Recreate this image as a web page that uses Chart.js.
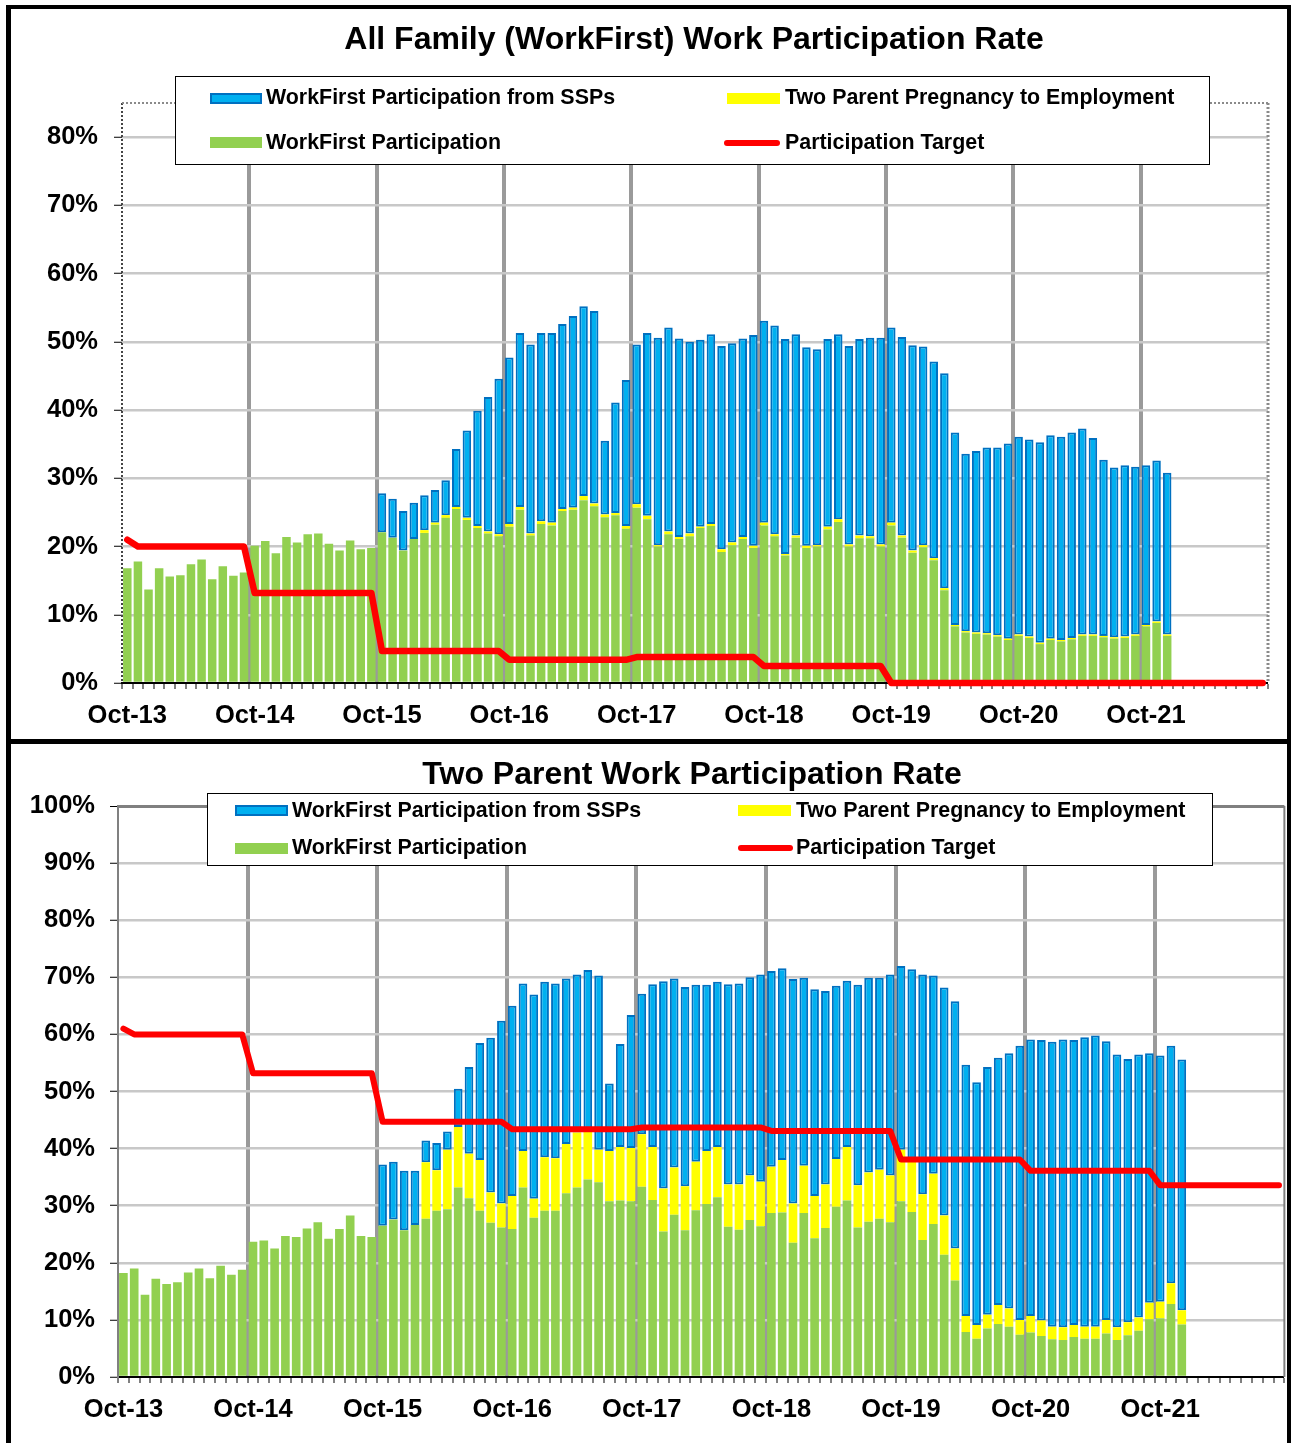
<!DOCTYPE html>
<html><head><meta charset="utf-8">
<script src="https://cdn.jsdelivr.net/npm/chart.js@4.4.1/dist/chart.umd.min.js"></script>
<style>
html,body{margin:0;padding:0;background:#fff;}
body{width:1291px;height:1443px;position:relative;overflow:hidden;font-family:'Liberation Sans',Arial,sans-serif;}
canvas{position:absolute;left:0;}
#c1{top:0;} #c2{top:742px;}
.box{position:absolute;box-sizing:border-box;border:0 solid #000;}
.title{position:absolute;font-weight:bold;font-size:32px;line-height:32px;white-space:nowrap;transform:translateX(-50%);color:#000;}
.legend{position:absolute;background:#fff;border:1px solid #000;box-sizing:border-box;}
.lt{position:absolute;font-weight:bold;font-size:21.4px;line-height:21px;white-space:nowrap;color:#000;}
.sw{position:absolute;box-sizing:border-box;}
.blue{background:#00B0F0;border:2px solid #0070C0;}
.yel{background:#FFFF00;}
.grn{background:#92D050;}
.red{background:#FF0000;border-radius:3px;}
</style></head><body>
<canvas id="c1" width="1291" height="740"></canvas>
<canvas id="c2" width="1291" height="701"></canvas>

<div class="box" style="left:6px;top:5px;width:1285px;height:739px;border-left-width:5px;border-top-width:4px;border-right-width:4px;border-bottom-width:5px;"></div>
<div class="box" style="left:6px;top:744px;width:1285px;height:720px;border-left-width:5px;border-right-width:4px;"></div>

<div class="title" style="left:694px;top:22px;">All Family (WorkFirst) Work Participation Rate</div>
<div class="title" style="left:692px;top:757px;">Two Parent Work Participation Rate</div>

<div class="legend" style="left:175px;top:76px;width:1035px;height:89px;"></div>
<div class="sw blue" style="left:210px;top:93px;width:52px;height:11px;"></div>
<div class="lt" style="left:266px;top:87px;">WorkFirst Participation from SSPs</div>
<div class="sw yel" style="left:727px;top:93px;width:53px;height:11px;"></div>
<div class="lt" style="left:785px;top:87px;">Two Parent Pregnancy to Employment</div>
<div class="sw grn" style="left:210px;top:137px;width:52px;height:11px;"></div>
<div class="lt" style="left:266px;top:132px;">WorkFirst Participation</div>
<div class="sw red" style="left:724px;top:140px;width:56px;height:6px;"></div>
<div class="lt" style="left:785px;top:132px;">Participation Target</div>

<div class="legend" style="left:207px;top:793px;width:1006px;height:73px;"></div>
<div class="sw blue" style="left:235px;top:805px;width:53px;height:11px;"></div>
<div class="lt" style="left:292px;top:800px;">WorkFirst Participation from SSPs</div>
<div class="sw yel" style="left:738px;top:805px;width:53px;height:11px;"></div>
<div class="lt" style="left:796px;top:800px;">Two Parent Pregnancy to Employment</div>
<div class="sw grn" style="left:235px;top:843px;width:53px;height:11px;"></div>
<div class="lt" style="left:292px;top:837px;">WorkFirst Participation</div>
<div class="sw red" style="left:738px;top:845px;width:55px;height:6px;"></div>
<div class="lt" style="left:796px;top:837px;">Participation Target</div>

<script>
const categories = [
 'Oct-13','Nov-13','Dec-13','Jan-14','Feb-14','Mar-14','Apr-14','May-14','Jun-14','Jul-14','Aug-14','Sep-14',
 'Oct-14','Nov-14','Dec-14','Jan-15','Feb-15','Mar-15','Apr-15','May-15','Jun-15','Jul-15','Aug-15','Sep-15',
 'Oct-15','Nov-15','Dec-15','Jan-16','Feb-16','Mar-16','Apr-16','May-16','Jun-16','Jul-16','Aug-16','Sep-16',
 'Oct-16','Nov-16','Dec-16','Jan-17','Feb-17','Mar-17','Apr-17','May-17','Jun-17','Jul-17','Aug-17','Sep-17',
 'Oct-17','Nov-17','Dec-17','Jan-18','Feb-18','Mar-18','Apr-18','May-18','Jun-18','Jul-18','Aug-18','Sep-18',
 'Oct-18','Nov-18','Dec-18','Jan-19','Feb-19','Mar-19','Apr-19','May-19','Jun-19','Jul-19','Aug-19','Sep-19',
 'Oct-19','Nov-19','Dec-19','Jan-20','Feb-20','Mar-20','Apr-20','May-20','Jun-20','Jul-20','Aug-20','Sep-20',
 'Oct-20','Nov-20','Dec-20','Jan-21','Feb-21','Mar-21','Apr-21','May-21','Jun-21','Jul-21','Aug-21','Sep-21',
 'Oct-21','Nov-21','Dec-21','Jan-22','Feb-22','Mar-22','Apr-22','May-22','Jun-22','Jul-22','Aug-22','Sep-22'
];
const tickLabels = ['Oct-13','Oct-14','Oct-15','Oct-16','Oct-17','Oct-18','Oct-19','Oct-20','Oct-21'];
const allYTickMax = 80;   // highest labelled tick on the All Family chart
const twoYTickMax = 100;  // highest labelled tick on the Two Parent chart

// All Family chart (percent)
const allWorkFirst = [
 16.8,17.8,13.7,16.8,15.6,15.8,17.4,18.1,15.2,17.1,15.7,16.2,
 20.1,20.8,19.0,21.4,20.6,21.8,21.9,20.4,19.4,20.9,19.6,19.8,
 22.1,21.3,19.4,21.1,22.0,23.2,24.2,25.5,23.9,22.7,21.9,21.5,
 22.9,25.4,21.6,23.3,23.1,25.2,25.4,26.8,25.9,24.3,24.6,22.6,
 25.7,24.0,20.0,21.8,21.1,21.5,22.7,23.0,19.2,20.2,21.1,19.8,
 23.1,21.5,18.7,21.3,19.8,20.0,22.5,23.6,20.0,21.2,21.2,20.0,
 23.1,21.3,19.1,19.9,18.0,13.6,8.3,7.4,7.2,7.1,6.8,6.3,
 6.9,6.6,5.7,6.3,6.1,6.4,6.9,6.9,6.7,6.5,6.6,6.9,
 8.3,8.8,6.9
];
const allPregnancy = [
 null,null,null,null,null,null,null,null,null,null,null,null,
 null,null,null,null,null,null,null,null,null,null,null,null,
 null,null,null,null,0.4,0.3,0.4,0.3,0.3,0.3,0.3,0.3,
 0.4,0.4,0.3,0.4,0.4,0.3,0.3,0.6,0.4,0.4,0.3,0.4,
 0.5,0.5,0.2,0.4,0.3,0.4,0.2,0.3,0.4,0.4,0.3,0.3,
 0.4,0.3,0.2,0.3,0.3,0.2,0.4,0.4,0.3,0.4,0.3,0.3,
 0.4,0.3,0.3,0.3,0.3,0.3,0.2,0.2,0.2,0.2,0.2,0.2,
 0.2,0.2,0.2,0.2,0.2,0.2,0.2,0.2,0.2,0.2,0.2,0.2,
 0.2,0.2,0.2
];
const allSSP = [
 null,null,null,null,null,null,null,null,null,null,null,null,
 null,null,null,null,null,null,null,null,null,null,null,null,
 5.7,5.7,5.8,5.3,5.1,4.8,5.1,8.5,12.8,16.9,19.7,22.8,
 24.4,25.5,27.7,27.6,27.8,27.1,28.1,27.8,28.2,10.8,16.2,21.4,
 23.4,26.8,30.4,29.9,29.1,28.1,27.4,27.8,29.8,29.2,29.1,30.9,
 29.6,30.6,31.5,29.5,29.1,28.7,27.5,27.1,29.1,28.8,29.1,30.3,
 28.6,29.1,30.1,29.1,28.8,31.5,28.2,26.0,26.6,27.2,27.5,28.6,
 29.0,28.9,29.4,29.8,29.8,30.1,30.2,28.8,25.8,24.9,25.1,24.6,
 23.4,23.6,23.7
];
const allTarget = [
 21,20,20,20,20,20,20,20,20,20,20,20,
 13.2,13.2,13.2,13.2,13.2,13.2,13.2,13.2,13.2,13.2,13.2,13.2,
 4.7,4.7,4.7,4.7,4.7,4.7,4.7,4.7,4.7,4.7,4.7,4.7,
 3.4,3.4,3.4,3.4,3.4,3.4,3.4,3.4,3.4,3.4,3.4,3.4,
 3.8,3.8,3.8,3.8,3.8,3.8,3.8,3.8,3.8,3.8,3.8,3.8,
 2.5,2.5,2.5,2.5,2.5,2.5,2.5,2.5,2.5,2.5,2.5,2.5,
 0,0,0,0,0,0,0,0,0,0,0,0,
 0,0,0,0,0,0,0,0,0,0,0,0,
 0,0,0,0,0,0,0,0,0,0,0,0
];

// Two Parent chart (percent)
const twoWorkFirst = [
 18.2,19.0,14.4,17.2,16.3,16.6,18.3,19.0,17.3,19.5,17.9,18.8,
 23.7,23.9,22.5,24.7,24.5,26.0,27.1,24.2,25.9,28.3,24.7,24.5,
 26.5,27.6,25.7,26.6,27.7,29.1,29.4,33.2,31.3,29.1,27.0,26.2,
 25.9,33.2,27.9,29.1,29.1,32.2,33.2,34.6,34.1,30.8,30.9,30.8,
 33.3,31.0,25.5,28.4,25.7,29.2,30.3,31.5,26.3,25.8,27.5,26.4,
 28.7,28.8,23.5,28.7,24.3,26.1,29.8,30.9,26.2,27.2,27.7,27.1,
 30.8,28.9,24.0,26.8,21.4,16.9,7.9,6.7,8.5,9.3,8.8,7.4,
 7.8,7.2,6.6,6.5,7.0,6.7,6.7,7.6,6.5,7.3,8.1,10.1,
 10.3,12.8,9.2
];
const twoPregnancy = [
 null,null,null,null,null,null,null,null,null,null,null,null,
 null,null,null,null,null,null,null,null,null,null,null,null,
 null,null,null,null,9.9,7.1,10.4,10.6,7.8,8.9,5.3,4.2,
 5.8,6.4,3.3,9.4,9.2,8.6,9.6,8.4,5.7,8.8,9.4,9.3,
 9.2,9.3,7.5,8.3,7.7,8.5,9.3,8.8,7.4,7.9,7.8,7.8,
 8.1,9.2,6.9,8.3,7.4,7.6,8.4,9.4,7.4,8.6,8.6,8.2,
 9.0,9.1,8.0,8.8,6.9,5.6,2.8,2.4,2.4,3.3,3.2,2.6,
 2.9,2.7,2.2,2.2,2.1,2.1,2.1,2.4,2.2,2.3,2.3,2.9,
 2.9,3.6,2.5
];
const twoSSP = [
 null,null,null,null,null,null,null,null,null,null,null,null,
 null,null,null,null,null,null,null,null,null,null,null,null,
 10.7,10.1,10.4,9.5,3.8,4.8,3.2,6.7,15.2,20.5,27.1,32.0,
 33.3,29.3,35.8,30.7,30.6,29.0,27.7,28.3,30.5,11.8,18.0,23.3,
 24.6,28.5,36.3,33.1,34.9,31.0,29.1,28.9,35.1,35.2,34.7,36.3,
 34.3,33.6,39.3,32.9,36.2,33.9,30.3,29.1,35.1,34.1,33.6,35.2,
 32.2,33.4,38.5,34.7,39.9,43.3,44.0,42.5,43.4,43.3,44.7,48.0,
 48.4,49.1,49.9,50.4,49.9,50.7,51.0,48.8,47.8,46.1,46.1,43.7,
 43.1,41.6,43.9
];
const twoTarget = [
 61,60,60,60,60,60,60,60,60,60,60,60,
 53.2,53.2,53.2,53.2,53.2,53.2,53.2,53.2,53.2,53.2,53.2,53.2,
 44.7,44.7,44.7,44.7,44.7,44.7,44.7,44.7,44.7,44.7,44.7,44.7,
 43.4,43.4,43.4,43.4,43.4,43.4,43.4,43.4,43.4,43.4,43.4,43.4,
 43.7,43.7,43.7,43.7,43.7,43.7,43.7,43.7,43.7,43.7,43.7,43.7,
 43.1,43.1,43.1,43.1,43.1,43.1,43.1,43.1,43.1,43.1,43.1,43.1,
 38.1,38.1,38.1,38.1,38.1,38.1,38.1,38.1,38.1,38.1,38.1,38.1,
 36.1,36.1,36.1,36.1,36.1,36.1,36.1,36.1,36.1,36.1,36.1,36.1,
 33.6,33.6,33.6,33.6,33.6,33.6,33.6,33.6,33.6,33.6,33.6,33.6
];

const seriesNames = ['WorkFirst Participation','Two Parent Pregnancy to Employment','WorkFirst Participation from SSPs','Participation Target'];
const FONT = {family:"'Liberation Sans', Arial, sans-serif", size:25.5, weight:'bold'};

function isYear(ctx){ return ctx.index !== undefined && ctx.index > 0 && ctx.index % 12 === 0; }

function framePlugin(id, o){
  return {
    id: id,
    beforeDatasetsDraw(chart){
      const c = chart.ctx, a = chart.chartArea;
      c.save();
      if (o.left){
        c.strokeStyle = o.leftColor; c.lineWidth = o.leftWidth; c.setLineDash(o.dash || []);
        c.beginPath(); c.moveTo(a.left, a.top); c.lineTo(a.left, a.bottom); c.stroke();
      }
      c.strokeStyle = o.color; c.setLineDash(o.dash || []);
      if (o.top){ c.lineWidth = o.topWidth; c.beginPath(); c.moveTo(a.left, a.top); c.lineTo(a.right, a.top); c.stroke(); }
      c.lineWidth = o.rightWidth; c.beginPath(); c.moveTo(a.right, a.top); c.lineTo(a.right, a.bottom); c.stroke();
      c.restore();
    }
  };
}

function makeChart(id, d, cfg){
  return new Chart(document.getElementById(id), {
    data: {
      labels: categories,
      datasets: [
        {type:'line', label:seriesNames[3], data:d.target, borderColor:'#FF0000', borderWidth:cfg.lineWidth,
         pointRadius:0, tension:0, order:0, stack:'t', clip:false, borderCapStyle:'round', borderJoinStyle:'round', fill:false},
        {type:'bar', label:seriesNames[0], data:d.wf, backgroundColor:'#92D050', borderWidth:0, order:1, stack:'s'},
        {type:'bar', label:seriesNames[1], data:d.preg, backgroundColor:'#FFFF00', borderWidth:0, order:1, stack:'s'},
        {type:'bar', label:seriesNames[2], data:d.ssp, backgroundColor:'#00B0F0', borderColor:'#0070C0', borderWidth:2, borderSkipped:false, order:1, stack:'s'}
      ]
    },
    options: {
      responsive:false, animation:false, events:[],
      layout:{padding:cfg.padding},
      datasets:{bar:{barPercentage:0.8, categoryPercentage:1}},
      plugins:{legend:{display:false}, tooltip:{enabled:false}, title:{display:false}},
      scales:{
        x:{type:'category', stacked:true, offset:true,
          grid:{offset:true, color:ctx=>isYear(ctx)?'#9a9a9a':'rgba(0,0,0,0)', lineWidth:ctx=>isYear(ctx)?4:0,
                tickColor:'#000', tickWidth:1, tickLength:6},
          border:{display:true, color:'#000', width:2},
          ticks:{autoSkip:false, maxRotation:0, minRotation:0, padding:12, color:'#000', font:FONT,
                 callback:(v,i)=> tickLabels.includes(categories[i]) ? categories[i] : ''},
          afterFit:s=>{ s.height = cfg.xHeight; }
        },
        y:{stacked:true, min:0, max:cfg.yMax, bounds:'data',
          ticks:{stepSize:10, includeBounds:false, padding:cfg.yPad, color:'#000', font:FONT, callback:v=>v+'%'},
          afterBuildTicks:s=>{ s.ticks = s.ticks.filter(t => t.value <= cfg.yTickMax); },
          grid:{color:cfg.yGridColor, lineWidth:cfg.yGridWidth, tickColor:'#000', tickWidth:1, tickLength:8},
          border:cfg.yBorder,
          afterFit:s=>{ s.width = cfg.yWidth; }
        }
      }
    },
    plugins:[framePlugin(id+'frame', cfg.frame)]
  });
}

makeChart('c1', {wf:allWorkFirst, preg:allPregnancy, ssp:allSSP, target:allTarget}, {
  padding:{top:103, right:23, bottom:0, left:0},
  xHeight:57, yWidth:122, yMax:85, yTickMax:allYTickMax, yPad:16, lineWidth:6.5,
  yGridColor:ctx=> (ctx.tick && ctx.tick.value===0) ? 'rgba(0,0,0,0)' : '#c8c8c8',
  yGridWidth:2.5,
  yBorder:{display:false},
  frame:{color:'#8a8a8a', dash:[2,2], top:true, topWidth:2, rightWidth:3, left:true, leftColor:'#444', leftWidth:2}
});

makeChart('c2', {wf:twoWorkFirst, preg:twoPregnancy, ssp:twoSSP, target:twoTarget}, {
  padding:{top:64, right:4, bottom:0, left:0},
  xHeight:66, yWidth:118, yMax:100, yTickMax:twoYTickMax, yPad:15, lineWidth:6,
  yGridColor:ctx=> (ctx.tick && ctx.tick.value===0) ? 'rgba(0,0,0,0)' : (ctx.tick && ctx.tick.value===100 ? '#808080' : '#c8c8c8'),
  yGridWidth:ctx=> (ctx.tick && ctx.tick.value===100) ? 3 : 2.5,
  yBorder:{display:true, color:'#808080', width:2},
  frame:{color:'#808080', dash:[], top:false, topWidth:0, rightWidth:2, left:false}
});
</script>
</body></html>
